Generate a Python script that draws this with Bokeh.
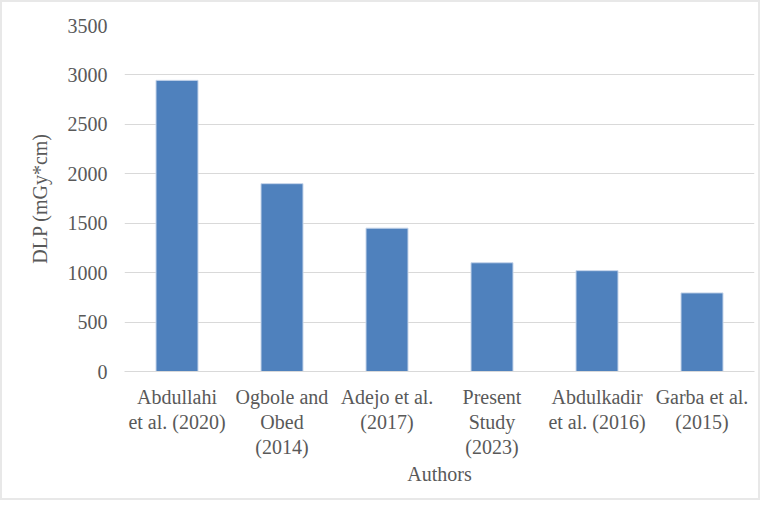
from bokeh.plotting import figure
from bokeh.models import FactorRange, Range1d, FixedTicker, ColumnDataSource
from bokeh.embed import file_html
from bokeh.resources import INLINE

authors = ["Abdullahi\net al. (2020)", "Ogbole and\nObed\n(2014)", "Adejo et al.\n(2017)",
           "Present\nStudy\n(2023)", "Abdulkadir\net al. (2016)", "Garba et al.\n(2015)"]
dlp = [2945, 1900, 1450, 1100, 1020, 795]
y_ticks = [0, 500, 1000, 1500, 2000, 2500, 3000, 3500]

FONT = "Liberation Serif"
TXT = "#595959"

src = ColumnDataSource(dict(x=authors, top=dlp))

p = figure(width=760, height=500, x_range=FactorRange(*authors), y_range=Range1d(0, 3500),
           output_backend="svg", toolbar_location=None,
           min_border_left=122, min_border_right=8, min_border_top=23, min_border_bottom=131)
p.vbar(x="x", top="top", width=0.4, source=src, fill_color="#4f81bd", line_color="#c6d5ea", line_width=1)

p.outline_line_color = None
p.styles = {"border": "2px solid #e8e8e8"}
p.xgrid.grid_line_color = None
p.ygrid.grid_line_color = "#d9d9d9"
p.ygrid.grid_line_width = 1
p.ygrid.ticker = FixedTicker(ticks=y_ticks)

p.yaxis.ticker = FixedTicker(ticks=y_ticks)
p.yaxis.axis_line_color = None
p.yaxis.major_tick_line_color = None
p.yaxis.minor_tick_line_color = None
p.yaxis.major_label_text_font = FONT
p.yaxis.major_label_text_font_style = "normal"
p.yaxis.major_label_text_font_size = "20px"
p.yaxis.major_label_text_color = TXT
p.yaxis.major_label_standoff = 11
p.yaxis.axis_label = "DLP (mGy*cm)"
p.yaxis.axis_label_text_font = FONT
p.yaxis.axis_label_text_font_size = "20px"
p.yaxis.axis_label_text_font_style = "normal"
p.yaxis.axis_label_text_color = TXT
p.yaxis.axis_label_standoff = 14

p.xaxis.axis_line_color = "#d9d9d9"
p.xaxis.axis_line_width = 1
p.xaxis.major_tick_line_color = None
p.xaxis.minor_tick_line_color = None
p.xaxis.major_label_text_font = FONT
p.xaxis.major_label_text_font_style = "normal"
p.xaxis.major_label_text_font_size = "20px"
p.xaxis.major_label_text_color = TXT
p.xaxis.major_label_standoff = 8
p.xaxis.major_label_text_line_height = 1.15
p.xaxis.axis_label = "Authors"
p.xaxis.axis_label_text_font = FONT
p.xaxis.axis_label_text_font_size = "20px"
p.xaxis.axis_label_text_font_style = "normal"
p.xaxis.axis_label_text_color = TXT
p.xaxis.axis_label_standoff = 2

open("out.html", "w").write(file_html(p, INLINE))
